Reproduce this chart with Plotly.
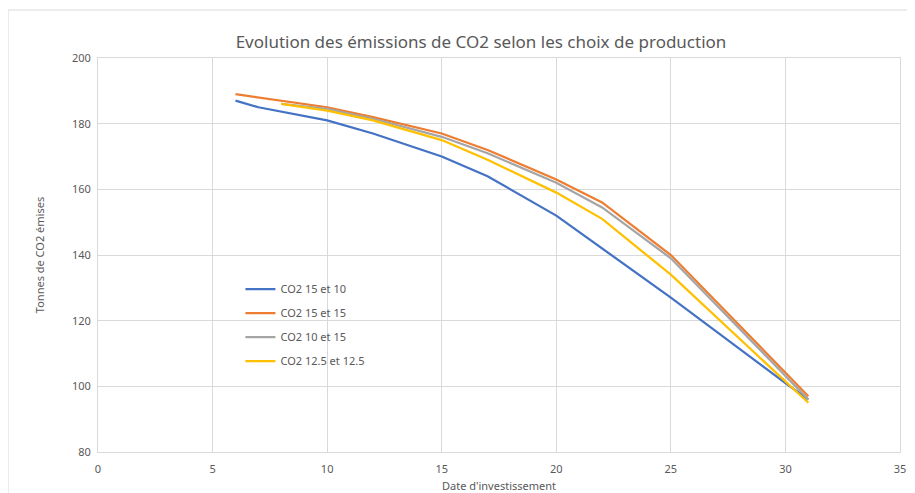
import plotly.graph_objects as go

x_blue = [6, 7, 10, 12, 15, 17, 20, 22, 25, 30, 31]
y_blue = [187, 185, 181, 177, 170, 164, 152, 142, 127, 101, 96]

x_orange = [6, 10, 12, 15, 17, 20, 22, 25, 31]
y_orange = [189, 185, 182, 177, 172, 163, 156, 140, 97]

x_grey = [8, 10, 12, 15, 17, 20, 22, 25, 31]
y_grey = [186, 184.5, 181.5, 176, 171, 162, 154.5, 139, 96]

x_yellow = [8, 10, 12, 15, 17, 20, 22, 25, 31]
y_yellow = [186, 184, 181, 175, 169, 159, 151, 134, 95]

names = ["CO2 15 et 10", "CO2 15 et 15", "CO2 10 et 15", "CO2 12.5 et 12.5"]
colors = ["#4472C4", "#ED7D31", "#A5A5A5", "#FFC000"]
series = [(x_blue, y_blue), (x_orange, y_orange), (x_grey, y_grey), (x_yellow, y_yellow)]

x_ticks = [0, 5, 10, 15, 20, 25, 30, 35]
y_ticks = [80, 100, 120, 140, 160, 180, 200]

fig = go.Figure()
for (xs, ys), n, c in zip(series, names, colors):
    fig.add_trace(go.Scatter(x=xs, y=ys, mode="lines", name=n, legendgroup=n,
                             line=dict(color=c, width=2.25)))

W, H = 907, 485
L, T, R, B = 90, 50, 15, 41
PW, PH = W - L - R, H - T - B

grey = "#595959"
fig.update_layout(
    width=W, height=H,
    margin=dict(l=L, r=R, t=T, b=B),
    paper_bgcolor="white", plot_bgcolor="white",
    font=dict(family="Noto Sans", color=grey, size=11),
    title=dict(text="Evolution des émissions de CO2 selon les choix de production",
               x=(473 - L) / PW, xref="paper", xanchor="center", y=1 - 34 / H, yanchor="middle",
               font=dict(size=17, color=grey)),
    xaxis=dict(range=[0, 35], tickvals=x_ticks, showgrid=True, gridcolor="#d9d9d9",
               showline=True, linecolor="#d9d9d9", mirror=True, zeroline=False,
               ticks="", tickfont=dict(size=11, color=grey), ticklabelstandoff=7,
               automargin=False,
               title=dict(text="Date d'investissement", font=dict(size=11, color=grey), standoff=8)),
    yaxis=dict(range=[80, 200], tickvals=y_ticks, showgrid=True, gridcolor="#d9d9d9",
               showline=True, linecolor="#d9d9d9", mirror=True, zeroline=False,
               ticks="", tickfont=dict(size=11, color=grey), ticklabelstandoff=4,
               automargin=False,
               title=dict(text="Tonnes de CO2 émises", font=dict(size=11, color=grey), standoff=25)),
    legend=dict(x=0.1776, y=0.4505, xanchor="left", yanchor="top",
                bgcolor="rgba(0,0,0,0)", font=dict(size=11, color=grey),
                itemwidth=30, tracegroupgap=5),
    showlegend=True,
)
fig.add_shape(type="rect", xref="paper", yref="paper",
              x0=(0 - L) / PW, x1=(W + 20 - L) / PW,
              y0=(PH + T - (H + 20)) / PH, y1=(PH + T - 2) / PH,
              line=dict(color="#d9d9d9", width=1), layer="below")

fig.write_html("out.html")
